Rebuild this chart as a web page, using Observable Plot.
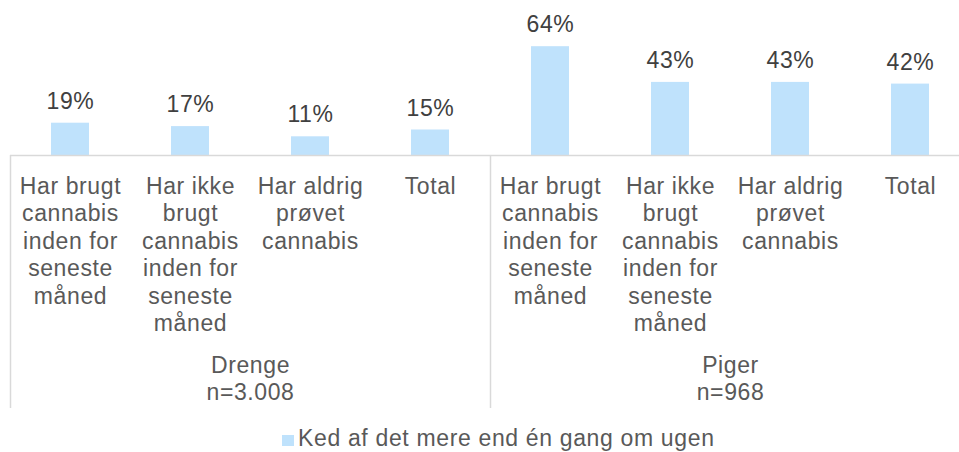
<!DOCTYPE html>
<html><head><meta charset="utf-8">
<script src="https://cdn.jsdelivr.net/npm/d3@7"></script>
<script src="https://cdn.jsdelivr.net/npm/@observablehq/plot@0.6"></script>
<style>
body{margin:0;background:#fff;}
#chart{position:relative;width:959px;height:452px;overflow:hidden;font-family:"Liberation Sans",Arial,sans-serif;background:#fff;}
#chart svg{display:block;}
#legend{position:absolute;left:282px;top:426px;font-size:23px;color:#595959;white-space:nowrap;line-height:24px;letter-spacing:0.65px;}
#legend .sw{display:inline-block;width:12px;height:11px;background:#bfe2fc;margin-right:4px;}
</style></head><body><div id="chart"></div>
<script>
const groups = ["Drenge", "Piger"];
const groupNs = ["n=3.008", "n=968"];
const categories = [
  "Har brugt\ncannabis\ninden for\nseneste\nmåned",
  "Har ikke\nbrugt\ncannabis\ninden for\nseneste\nmåned",
  "Har aldrig\nprøvet\ncannabis",
  "Total"
];
const drengeValues = [19, 17, 11, 15];
const pigerValues = [64, 43, 43, 42];
const seriesName = "Ked af det mere end én gang om ugen";

const seriesByGroup = [drengeValues, pigerValues];
const nCat = categories.length;
const data = groups.flatMap((g, gi) => categories.map((c, ci) => ({
  group: g, category: c, pos: gi * nCat + ci, value: seriesByGroup[gi][ci]
})));
const groupInfo = groups.map((g, gi) => ({
  label: g + "\n" + groupNs[gi],
  center: gi * nCat + (nCat - 1) / 2,
  start: gi * nCat - 0.5
}));

const font = '"Liberation Sans", Arial, sans-serif';
const plot = Plot.plot({
  width: 959, height: 428,
  marginTop: 0, marginBottom: 273, marginLeft: 10, marginRight: 0,
  x: {type: "linear", domain: [-0.5, groups.length * nCat - 0.5], range: [10, 970], axis: null},
  y: {domain: [0, 100], range: [155, -15], axis: null},
  style: {fontFamily: font, background: "white", overflow: "visible", letterSpacing: "0.6px"},
  marks: [
    Plot.rectY(data, {x1: d => d.pos - 0.5, x2: d => d.pos + 0.5, y: "value", insetLeft: 41, insetRight: 41, fill: "#bfe2fc"}),
    Plot.ruleY([0], {stroke: "#d9d9d9", strokeWidth: 1.5}),
    Plot.ruleX(groupInfo, {x: "start", y: 0, insetBottom: -253, stroke: "#d9d9d9", strokeWidth: 1.5}),
    Plot.text(data, {x: "pos", y: "value", text: d => d.value + "%", lineAnchor: "bottom", dy: -14.5, fontSize: 23, fill: "#404040"}),
    Plot.text(data, {x: "pos", text: "category", frameAnchor: "bottom", lineAnchor: "top", dy: 18.7, lineHeight: 1.196, fontSize: 23, fill: "#595959"}),
    Plot.text(groupInfo, {x: "center", text: "label", frameAnchor: "bottom", lineAnchor: "top", dy: 198.7, lineHeight: 1.17, fontSize: 23, fill: "#595959"})
  ]
});
const chart = document.getElementById("chart");
chart.appendChild(plot);
const legend = document.createElement("div");
legend.id = "legend";
const sw = document.createElement("span");
sw.className = "sw";
legend.appendChild(sw);
legend.appendChild(document.createTextNode(seriesName));
chart.appendChild(legend);
</script>
</body></html>
